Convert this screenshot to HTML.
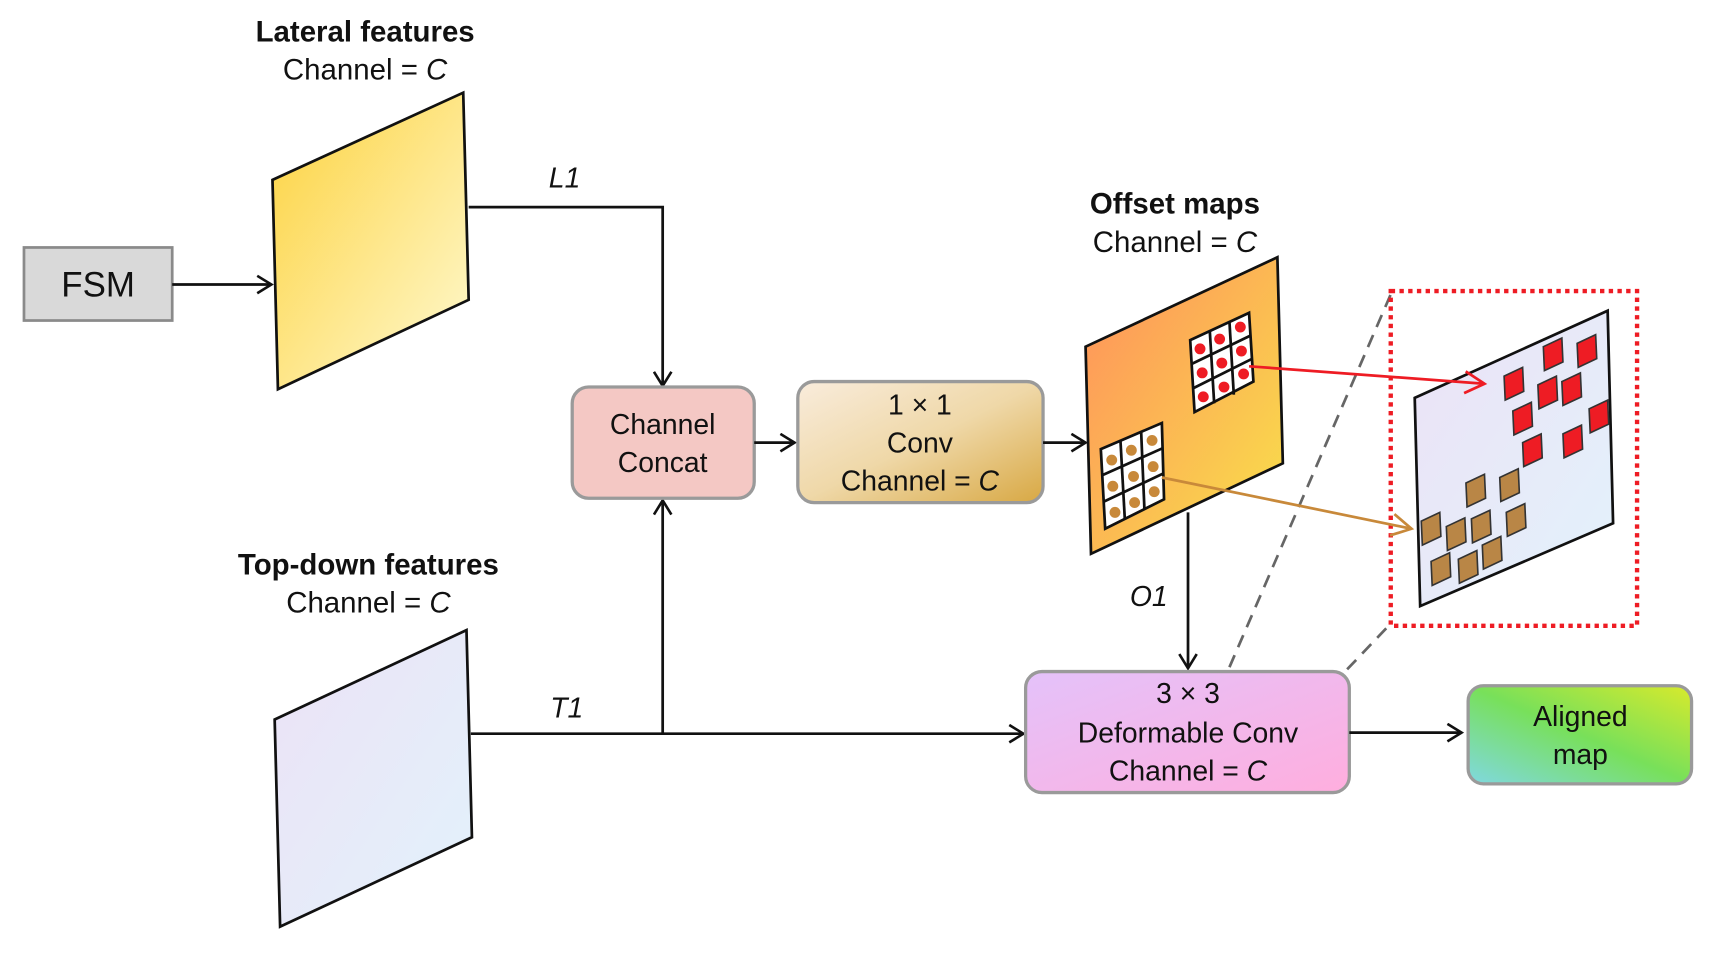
<!DOCTYPE html>
<html><head><meta charset="utf-8"><style>
html,body{margin:0;padding:0;background:#fff;}
svg{display:block;}
text{font-family:"Liberation Sans",Arial,sans-serif;fill:#111;}
</style></head><body>
<svg width="1709" height="955" viewBox="0 0 1568 876" preserveAspectRatio="none" xmlns="http://www.w3.org/2000/svg">
<defs>
<linearGradient id="gy" x1="0" y1="0" x2="1" y2="1"><stop offset="0" stop-color="#fdd23e"/><stop offset="1" stop-color="#fefad2"/></linearGradient>
<linearGradient id="gl" x1="0" y1="0" x2="1" y2="1"><stop offset="0" stop-color="#ece2f6"/><stop offset="1" stop-color="#e2f2fb"/></linearGradient>
<linearGradient id="go" x1="0" y1="0" x2="1" y2="1"><stop offset="0" stop-color="#ff8f5c"/><stop offset="1" stop-color="#f8e24a"/></linearGradient>
<linearGradient id="gc" x1="0" y1="0" x2="1" y2="1"><stop offset="0" stop-color="#f9ecdc"/><stop offset="0.5" stop-color="#efd8a8"/><stop offset="1" stop-color="#d8a843"/></linearGradient>
<linearGradient id="gd" x1="0" y1="0" x2="1" y2="1"><stop offset="0" stop-color="#e4c2fa"/><stop offset="1" stop-color="#ffaede"/></linearGradient>
<linearGradient id="ga" x1="1" y1="0" x2="0" y2="1"><stop offset="0" stop-color="#d8ea2c"/><stop offset="0.5" stop-color="#78e05a"/><stop offset="1" stop-color="#80d8e0"/></linearGradient>
<marker id="ar" markerWidth="18" markerHeight="18" refX="15" refY="9" orient="auto" markerUnits="userSpaceOnUse"><path d="M2,1 L15,9 L2,17" fill="none" stroke="#111" stroke-width="2.4"/></marker>
<marker id="arr" markerWidth="24" markerHeight="24" refX="20" refY="12" orient="auto" markerUnits="userSpaceOnUse"><path d="M2,2 L20,12 L2,22" fill="none" stroke="#ee1c24" stroke-width="2.5"/></marker>
<marker id="arb" markerWidth="24" markerHeight="24" refX="20" refY="12" orient="auto" markerUnits="userSpaceOnUse"><path d="M2,2 L20,12 L2,22" fill="none" stroke="#c8893a" stroke-width="2.5"/></marker>
</defs>

<text x="335" y="38" font-size="27" font-weight="bold" text-anchor="middle">Lateral features</text>
<text x="335" y="73" font-size="27" text-anchor="middle">Channel = <tspan font-style="italic">C</tspan></text>
<text x="338" y="527" font-size="27" font-weight="bold" text-anchor="middle">Top-down features</text>
<text x="338" y="562" font-size="27" text-anchor="middle">Channel = <tspan font-style="italic">C</tspan></text>
<text x="1078" y="196" font-size="27" font-weight="bold" text-anchor="middle">Offset maps</text>
<text x="1078" y="231" font-size="27" text-anchor="middle">Channel = <tspan font-style="italic">C</tspan></text>

<polygon points="250,165 425,85 430,275 255,357" fill="url(#gy)" stroke="#111" stroke-width="2.5"/>
<polygon points="252,660 428,578 433,768 257,850" fill="url(#gl)" stroke="#111" stroke-width="2.5"/>

<rect x="22" y="227" width="136" height="67" fill="#d9d9d9" stroke="#8a8a8a" stroke-width="2.5"/>
<text x="90" y="272" font-size="32" text-anchor="middle">FSM</text>
<line x1="158" y1="261" x2="249" y2="261" stroke="#111" stroke-width="2.5" marker-end="url(#ar)"/>

<polyline points="430,190 608,190 608,354" fill="none" stroke="#111" stroke-width="2.5" marker-end="url(#ar)"/>
<text x="518" y="172" font-size="26" font-style="italic" text-anchor="middle">L1</text>

<line x1="432" y1="673" x2="939" y2="673" stroke="#111" stroke-width="2.5" marker-end="url(#ar)"/>
<line x1="608" y1="673" x2="608" y2="459" stroke="#111" stroke-width="2.5" marker-end="url(#ar)"/>
<text x="520" y="658" font-size="26" font-style="italic" text-anchor="middle">T1</text>

<rect x="525" y="355" width="167" height="102" rx="15" fill="#f4c8c4" stroke="#9a9a9a" stroke-width="3"/>
<text x="608" y="398" font-size="26" text-anchor="middle">Channel</text>
<text x="608" y="433" font-size="26" text-anchor="middle">Concat</text>
<line x1="692" y1="406" x2="729" y2="406" stroke="#111" stroke-width="2.5" marker-end="url(#ar)"/>

<rect x="732" y="350" width="225" height="111" rx="15" fill="url(#gc)" stroke="#9a9a9a" stroke-width="3"/>
<text x="844" y="380" font-size="26" text-anchor="middle">1 × 1</text>
<text x="844" y="415" font-size="26" text-anchor="middle">Conv</text>
<text x="844" y="450" font-size="26" text-anchor="middle">Channel = <tspan font-style="italic">C</tspan></text>
<line x1="957" y1="406" x2="996" y2="406" stroke="#111" stroke-width="2.5" marker-end="url(#ar)"/>

<line x1="1128" y1="612" x2="1276" y2="270" stroke="#666" stroke-width="2.5" stroke-dasharray="12,8"/>
<line x1="1236" y1="614" x2="1276" y2="572" stroke="#666" stroke-width="2.5" stroke-dasharray="12,8"/>

<polygon points="996,318 1172,236 1177,425 1001,508" fill="url(#go)" stroke="#111" stroke-width="2.5"/>
<g stroke="#111" stroke-width="2.5">
<polygon points="1092,312 1146,287 1150,350 1096,378" fill="#fff"/>
<line x1="1110" y1="304" x2="1114" y2="370"/><line x1="1128" y1="295" x2="1132" y2="362"/>
<line x1="1093" y1="334" x2="1147" y2="308"/><line x1="1095" y1="356" x2="1149" y2="329"/>
<polygon points="1010,412 1066,388 1068,458 1014,485" fill="#fff"/>
<line x1="1028" y1="404" x2="1032" y2="476"/><line x1="1047" y1="396" x2="1050" y2="467"/>
<line x1="1011" y1="436" x2="1067" y2="411"/><line x1="1013" y1="460" x2="1068" y2="434"/>
</g>
<g fill="#ee1c24">
<circle cx="1101" cy="320" r="5"/><circle cx="1119" cy="311" r="5"/><circle cx="1138" cy="300" r="5"/>
<circle cx="1103" cy="342" r="5"/><circle cx="1121" cy="333" r="5"/><circle cx="1139" cy="322" r="5"/>
<circle cx="1104" cy="364" r="5"/><circle cx="1123" cy="355" r="5"/><circle cx="1141" cy="343" r="5"/>
</g>
<g fill="#c8893a">
<circle cx="1020" cy="422" r="5"/><circle cx="1038" cy="413" r="5"/><circle cx="1057" cy="404" r="5"/>
<circle cx="1021" cy="446" r="5"/><circle cx="1040" cy="437" r="5"/><circle cx="1058" cy="428" r="5"/>
<circle cx="1023" cy="470" r="5"/><circle cx="1041" cy="461" r="5"/><circle cx="1059" cy="451" r="5"/>
</g>

<line x1="1090" y1="470" x2="1090" y2="613" stroke="#111" stroke-width="2.5" marker-end="url(#ar)"/>
<text x="1054" y="556" font-size="26" font-style="italic" text-anchor="middle">O1</text>

<rect x="1276" y="267" width="226" height="307" fill="none" stroke="#ee1c24" stroke-width="4" stroke-dasharray="4,4"/>
<polygon points="1298,365 1475,285 1480,480 1303,556" fill="url(#gl)" stroke="#111" stroke-width="2.5"/>
<g fill="#ee1c24" stroke="#333" stroke-width="1.5">
<polygon points="1380,345 1397,337 1398,359 1381,367"/>
<polygon points="1416,318 1433,310 1434,332 1417,340"/>
<polygon points="1447,315 1464,307 1465,329 1448,337"/>
<polygon points="1411,353 1428,345 1429,367 1412,375"/>
<polygon points="1433,350 1450,342 1451,364 1434,372"/>
<polygon points="1388,377 1405,369 1406,391 1389,399"/>
<polygon points="1397,406 1414,398 1415,420 1398,428"/>
<polygon points="1434,398 1451,390 1452,412 1435,420"/>
<polygon points="1458,375 1475,367 1476,389 1459,397"/>
</g>
<g fill="#b98646" stroke="#333" stroke-width="1.5">
<polygon points="1345,443 1362,435 1363,457 1346,465"/>
<polygon points="1376,438 1393,430 1394,452 1377,460"/>
<polygon points="1304,478 1321,470 1322,492 1305,500"/>
<polygon points="1327,483 1344,475 1345,497 1328,505"/>
<polygon points="1350,476 1367,468 1368,490 1351,498"/>
<polygon points="1382,470 1399,462 1400,484 1383,492"/>
<polygon points="1313,515 1330,507 1331,529 1314,537"/>
<polygon points="1338,513 1355,505 1356,527 1339,535"/>
<polygon points="1360,500 1377,492 1378,514 1361,522"/>
</g>
<line x1="1146" y1="336" x2="1362" y2="352" stroke="#ee1c24" stroke-width="2.5" marker-end="url(#arr)"/>
<line x1="1066" y1="438" x2="1295" y2="485" stroke="#c8893a" stroke-width="2.5" marker-end="url(#arb)"/>

<rect x="941" y="616" width="297" height="111" rx="15" fill="url(#gd)" stroke="#9a9a9a" stroke-width="3"/>
<text x="1090" y="645" font-size="26" text-anchor="middle">3 × 3</text>
<text x="1090" y="681" font-size="26" text-anchor="middle">Deformable Conv</text>
<text x="1090" y="716" font-size="26" text-anchor="middle">Channel = <tspan font-style="italic">C</tspan></text>
<line x1="1238" y1="672" x2="1341" y2="672" stroke="#111" stroke-width="2.5" marker-end="url(#ar)"/>

<rect x="1347" y="629" width="205" height="90" rx="14" fill="url(#ga)" stroke="#9a9a9a" stroke-width="3"/>
<text x="1450" y="666" font-size="26" text-anchor="middle">Aligned</text>
<text x="1450" y="701" font-size="26" text-anchor="middle">map</text>
</svg>
</body></html>
